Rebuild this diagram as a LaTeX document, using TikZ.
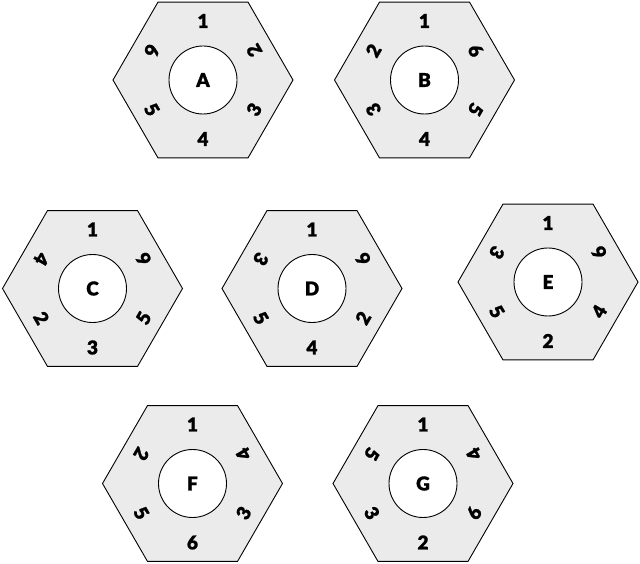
\documentclass[tikz,border=0pt]{standalone}
\usepackage{fontspec}
\setmainfont{Lato}
\newfontfamily\hvyfont{Lato Black}[FakeBold=1.2]
\usetikzlibrary{shapes.geometric}
\definecolor{hexgray}{RGB}{235,235,235}
\newcommand\numlbl[5]{\node[digit, rotate=#4] (#1) at ([shift={(#3:59)}]#2) {#5};}
\begin{document}
\begin{tikzpicture}[x=1pt,y=1pt,
  hexcell/.style={regular polygon, regular polygon sides=6, minimum size=180pt, inner sep=0pt, outer sep=0pt, draw=black, line width=0.9pt, fill=hexgray},
  hub/.style={circle, minimum size=68pt, inner sep=0pt, draw=black, line width=0.9pt, fill=white, font=\hvyfont\fontsize{19}{19}\selectfont},
  digit/.style={inner sep=0pt, font=\hvyfont\fontsize{19}{19}\selectfont}]
\useasboundingbox (0,0) rectangle (640,563);
\fill[white] (0,0) rectangle (640,563);
% A
\node[hexcell] (hA) at (203,483) {};
\node[hub] (cA) at (203,483) {A};
\numlbl{a1}{cA}{90}{0}{1}
\numlbl{a2}{cA}{30}{120}{2}
\numlbl{a3}{cA}{-30}{60}{3}
\numlbl{a4}{cA}{-90}{0}{4}
\numlbl{a5}{cA}{210}{-60}{5}
\numlbl{a6}{cA}{150}{-110}{6}
% B
\node[hexcell] (hB) at (424.5,483) {};
\node[hub] (cB) at (424.5,483) {B};
\numlbl{b1}{cB}{90}{0}{1}
\numlbl{b6}{cB}{30}{-60}{6}
\numlbl{b5}{cB}{-30}{-120}{5}
\numlbl{b4}{cB}{-90}{0}{4}
\numlbl{b3}{cB}{210}{120}{3}
\numlbl{b2}{cB}{150}{60}{2}
% C
\node[hexcell] (hC) at (92.5,274.5) {};
\node[hub] (cC) at (92.5,274.5) {C};
\numlbl{c1}{cC}{90}{0}{1}
\numlbl{c6}{cC}{30}{120}{6}
\numlbl{c5}{cC}{-30}{60}{5}
\numlbl{c3}{cC}{-90}{0}{3}
\numlbl{c2}{cC}{210}{-60}{2}
\numlbl{c4}{cC}{150}{-120}{4}
% D
\node[hexcell] (hD) at (312,274.5) {};
\node[hub] (cD) at (312,274.5) {D};
\numlbl{d1}{cD}{90}{0}{1}
\numlbl{d6}{cD}{30}{120}{6}
\numlbl{d2}{cD}{-30}{60}{2}
\numlbl{d4}{cD}{-90}{0}{4}
\numlbl{d5}{cD}{210}{-60}{5}
\numlbl{d3}{cD}{150}{-120}{3}
% E
\node[hexcell] (hE) at (548,281) {};
\node[hub] (cE) at (548,281) {E};
\numlbl{e1}{cE}{90}{0}{1}
\numlbl{e6}{cE}{30}{120}{6}
\numlbl{e4}{cE}{-30}{60}{4}
\numlbl{e2}{cE}{-90}{0}{2}
\numlbl{e5}{cE}{210}{-60}{5}
\numlbl{e3}{cE}{150}{-120}{3}
% F
\node[hexcell] (hF) at (192.5,79.5) {};
\node[hub] (cF) at (192.5,79.5) {F};
\numlbl{f1}{cF}{90}{0}{1}
\numlbl{f4}{cF}{30}{120}{4}
\numlbl{f3}{cF}{-30}{60}{3}
\numlbl{f6}{cF}{-90}{0}{6}
\numlbl{f5}{cF}{210}{-60}{5}
\numlbl{f2}{cF}{150}{-120}{2}
% G
\node[hexcell] (hG) at (423,79.5) {};
\node[hub] (cG) at (423,79.5) {G};
\numlbl{g1}{cG}{90}{0}{1}
\numlbl{g4}{cG}{30}{120}{4}
\numlbl{g6}{cG}{-30}{60}{6}
\numlbl{g2}{cG}{-90}{0}{2}
\numlbl{g3}{cG}{210}{-60}{3}
\numlbl{g5}{cG}{150}{-120}{5}
\end{tikzpicture}
\end{document}
